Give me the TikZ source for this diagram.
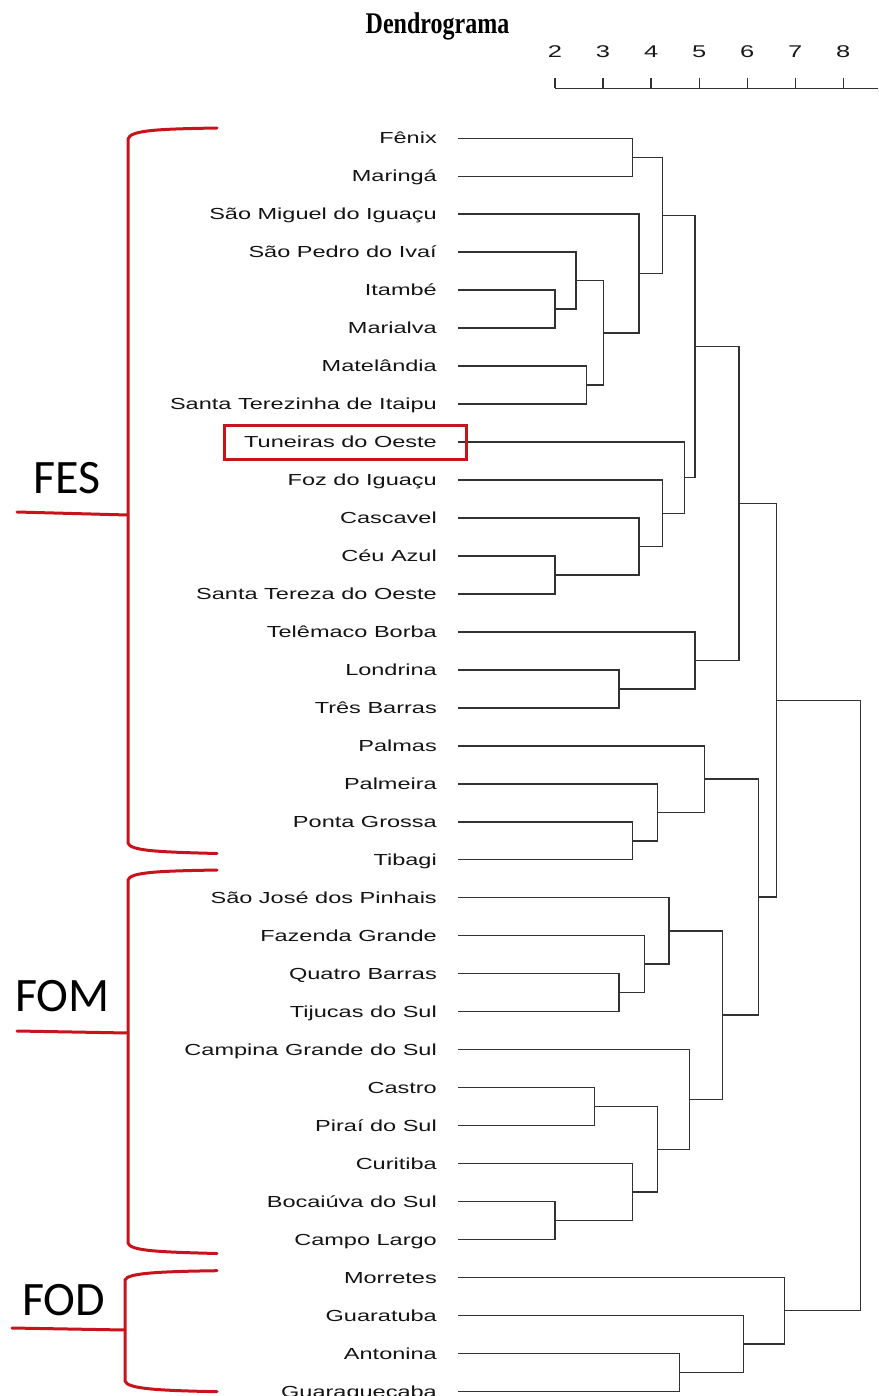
\documentclass[tikz,border=0pt]{standalone}
\usepackage{graphicx}
\usepackage{fontspec}
\setmainfont{Liberation Sans}
\newfontfamily\titlefont{Liberation Serif}
\newfontfamily\capfont{Carlito}
\usetikzlibrary{calc}
\definecolor{bred}{RGB}{200,18,28}
\definecolor{dline}{RGB}{50,50,50}
\newcommand\mrg[4]{%
  \coordinate (#1x) at (#2,0);
  \path ($(#3)!0.5!(#4)$) coordinate (#1m);
  \coordinate (#1) at (#1x |- #1m);
  \draw[tree] (#3) -| (#1) |- (#4);}
\begin{document}
\begin{tikzpicture}[x=1pt,y=-1pt,
  lab/.style={anchor=base east, inner sep=0pt, font=\fontsize{16}{16}\selectfont, text=black!92},
  tree/.style={draw=dline, line width=1.5pt},
  brk/.style={draw=bred, line width=3pt, line cap=round},
  grp/.style={font=\capfont\fontsize{48}{48}\selectfont, inner sep=0pt, anchor=base},
  tick/.style={anchor=base, inner sep=0pt, font=\fontsize{17}{17}\selectfont, text=black!90}]
\useasboundingbox (0,0) rectangle (878,1396);

% title
\node[anchor=base, inner sep=0pt, font=\titlefont\bfseries\fontsize{24}{24}\selectfont] (title) at (437.5,34) {\scalebox{1}[1.25]{Dendrograma}};

% axis
\coordinate (ax0) at (555,88.3);
\coordinate (ax1) at (878,88.3);
\draw[tree, line width=1.3pt] (ax0) -- (ax1);
\foreach \v in {2,...,8}{
  \pgfmathsetmacro\xx{555+(\v-2)*48.05}
  \coordinate (t\v) at (\xx,78);
  \draw[tree, line width=1.3pt] (t\v) -- (t\v |- ax0);
  \node[tick] (tl\v) at (\xx,58) {\scalebox{1.5}[1]{\v}};
}

% leaves
\foreach \i/\nm in {0/Fênix,1/Maringá,2/São Miguel do Iguaçu,3/São Pedro do Ivaí,4/Itambé,5/Marialva,6/Matelândia,7/Santa Terezinha de Itaipu,8/Tuneiras do Oeste,9/Foz do Iguaçu,10/Cascavel,11/Céu Azul,12/Santa Tereza do Oeste,13/Telêmaco Borba,14/Londrina,15/Três Barras,16/Palmas,17/Palmeira,18/Ponta Grossa,19/Tibagi,20/São José dos Pinhais,21/Fazenda Grande,22/Quatro Barras,23/Tijucas do Sul,24/Campina Grande do Sul,25/Castro,26/Piraí do Sul,27/Curitiba,28/Bocaiúva do Sul,29/Campo Largo,30/Morretes,31/Guaratuba,32/Antonina,33/Guaraqueçaba}{
  \pgfmathsetmacro\yy{138.3+37.97*\i}
  \coordinate (l\i) at (458,\yy);
  \node[lab] (n\i) at (437,\yy+5.7) {\scalebox{1.47}[1]{\nm}};
}

% merges
\mrg{A}{632.3}{l0}{l1}
\mrg{B}{555}{l4}{l5}
\mrg{C}{576}{l3}{B}
\mrg{D}{586.7}{l6}{l7}
\mrg{E}{603.3}{C}{D}
\mrg{F}{639}{l2}{E}
\mrg{G}{662.7}{A}{F}
\mrg{H}{555}{l11}{l12}
\mrg{I}{639}{l10}{H}
\mrg{J}{662.7}{l9}{I}
\mrg{K}{684.3}{l8}{J}
\mrg{L}{695}{G}{K}
\mrg{M}{619}{l14}{l15}
\mrg{N}{695}{l13}{M}
\mrg{O}{739}{L}{N}
\mrg{P}{632.7}{l18}{l19}
\mrg{Q}{657.3}{l17}{P}
\mrg{R}{704.3}{l16}{Q}
\mrg{S}{619}{l22}{l23}
\mrg{T}{644.7}{l21}{S}
\mrg{U}{669}{l20}{T}
\mrg{V}{594.3}{l25}{l26}
\mrg{W}{555}{l28}{l29}
\mrg{X}{632.3}{l27}{W}
\mrg{Y}{657.3}{V}{X}
\mrg{Z}{689.3}{l24}{Y}
\mrg{AA}{722.7}{U}{Z}
\mrg{BB}{758.3}{R}{AA}
\mrg{CC}{776.7}{O}{BB}
\mrg{DD}{679.3}{l32}{l33}
\mrg{EE}{743.3}{l31}{DD}
\mrg{FF}{784.3}{l30}{EE}
\mrg{root}{860.7}{CC}{FF}

% highlight box
\draw[draw=bred, line width=3pt] (224,425.5) rectangle (466.5,459);

% brackets
\draw[brk] (217,128) .. controls (160,129) and (130,130) .. (128,139) -- (128,843) .. controls (130,851) and (160,852) .. (217,853.5);
\draw[brk] (17,512) -- (128,515);
\draw[brk] (217,870) .. controls (160,871) and (130,872) .. (128,880) -- (128,1243) .. controls (130,1251) and (160,1252) .. (217,1253.5);
\draw[brk] (17,1031) -- (128,1033);
\draw[brk] (217,1270.7) .. controls (160,1271.5) and (127,1273) .. (125,1280) -- (125,1381) .. controls (127,1389) and (160,1390.5) .. (217,1391.7);
\draw[brk] (12,1328) -- (125,1330);

% group labels
\node[grp] (fes) at (67.5,493) {FES};
\node[grp] (fom) at (62.5,1011) {FOM};
\node[grp] (fod) at (63.5,1315) {FOD};
\end{tikzpicture}
\end{document}
